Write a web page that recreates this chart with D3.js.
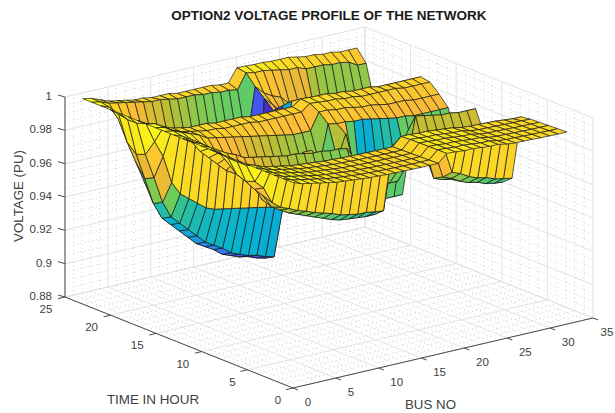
<!DOCTYPE html>
<html><head><meta charset="utf-8">
<script src="https://d3js.org/d3.v7.min.js"></script>
<style>html,body{margin:0;padding:0;background:#fff}svg{display:block}text{font-family:"Liberation Sans",Arial,sans-serif}</style>
</head><body><svg id="c" width="615" height="413"></svg>
<script>
const titleText="OPTION2 VOLTAGE PROFILE OF THE NETWORK", xLabel="BUS NO", yLabel="TIME IN HOUR", zLabel="VOLTAGE (PU)";
const xTicks=[0,5,10,15,20,25,30,35], yTicks=[0,5,10,15,20,25], zTicks=[0.88,0.9,0.92,0.94,0.96,0.98,1];
const zTickLabels=["0.88","0.9","0.92","0.94","0.96","0.98","1"];
const buses=d3.range(1,34), hours=d3.range(1,25);
const hour1=[1,.998,.997,.996,.995,.994,.9935,.993,.9925,.992,.9918,.9915,.9913,.9912,.9911,.991,.991,.991,.9958,.9955,.995,.995,.9945,.994,.994,.993,.9925,.9924,.9922,.992,.9919,.9918,.9918];
const hour2=[1,.998,.997,.996,.995,.994,.9933,.9928,.9923,.9918,.9916,.9913,.9911,.991,.9909,.9908,.9908,.9908,.9957,.9954,.9949,.9949,.9944,.9939,.9938,.9928,.9923,.9922,.992,.9918,.9917,.9916,.9916];
const hour3=[1,.998,.9968,.9958,.9948,.9938,.9931,.9926,.9921,.9916,.9914,.9911,.9909,.9908,.9907,.9906,.9906,.9906,.9956,.9953,.9948,.9948,.9943,.9938,.9937,.9926,.9921,.992,.9918,.9916,.9915,.9914,.9914];
const hour4=[1,.998,.9966,.9956,.9946,.9936,.9929,.9924,.9919,.9914,.9912,.9909,.9907,.9906,.9905,.9904,.9904,.9904,.9955,.9952,.9947,.9947,.9941,.9936,.9935,.9924,.9919,.9918,.9916,.9914,.9913,.9912,.9911];
const hour5=[1,.998,.9964,.9954,.9944,.9934,.9927,.9922,.9917,.9912,.991,.9907,.9905,.9904,.9903,.9902,.9902,.9902,.9954,.9951,.9946,.9946,.994,.9935,.9934,.9922,.9917,.9916,.9914,.9912,.9911,.991,.9908];
const hour6=[1,.998,.996,.995,.994,.993,.9925,.992,.9915,.991,.9908,.9905,.9903,.9902,.9901,.99,.99,.99,.995,.995,.9945,.9945,.994,.9935,.993,.992,.9915,.9914,.9912,.991,.9905,.99,.99];
const hour7=[1,.996,.985,.98,.97,.966,.964,.9616,.96,.958,.9565,.955,.953,.952,.951,.951,.95,.9495,.987,.985,.984,.983,.982,.981,.98,.963,.961,.958,.956,.955,.953,.952,.951];
const hour8=[1,.996,.983,.977,.972,.964,.961,.958,.956,.954,.952,.95,.948,.9466,.946,.9455,.945,.945,.972,.975,.975,.975,.975,.975,.975,.958,.956,.953,.951,.95,.948,.947,.9465];
const hour9=[1,.996,.985,.98,.975,.966,.963,.96,.958,.956,.955,.954,.952,.951,.95,.95,.949,.949,.975,.975,.975,.975,.975,.975,.975,.955,.953,.952,.951,.95,.949,.948,.955];
const hour10=[1,.997,.99,.985,.98,.975,.972,.97,.968,.966,.965,.964,.963,.962,.961,.96,.96,.96,.965,.965,.965,.965,.968,.968,.968,.968,.968,.968,.968,.968,.969,.97,.97];
const hour11=[1,.998,.995,.992,.99,.987,.986,.985,.984,.983,.982,.982,.981,.98,.98,.979,.979,.978,.97,.968,.965,.962,.96,.958,.96,.988,.987,.986,.985,.985,.984,.984,.984];
const hour12=[1,.998,.994,.99,.986,.982,.98,.978,.976,.975,.974,.973,.972,.971,.97,.97,.968,.968,.965,.96,.955,.955,.95,.948,.948,.975,.974,.973,.972,.972,.972,.972,.972];
const hour13=[1,.997,.99,.985,.98,.975,.972,.97,.968,.966,.965,.964,.963,.962,.975,.975,.958,.956,.966,.98,.956,.932,.93,.94,.945,.945,.957,.957,.957,.957,.957,.957,.957];
const hour14=[1,.998,.995,.992,.988,.983,.98,.978,.975,.972,.97,.968,.966,.965,.964,.963,.962,.962,.985,.984,.984,.983,.983,.982,.981,.98,.979,.979,.978,.978,.978,.978,.978];
const hour15=[1,.999,.997,.995,.993,.99,.989,.988,.987,.986,.985,.984,.983,.982,.981,.98,.98,.98,.99,.99,.989,.989,.988,.987,.987,.986,.985,.985,.985,.984,.984,.984,.984];
const hour16=[1,.999,.996,.994,.993,.992,.991,.991,.99,.99,.99,.99,.989,.989,.989,.989,.989,.989,.993,.9925,.992,.992,.991,.991,.99,.99,.99,.99,.99,.989,.989,.989,.989];
const hour17=[1,.999,.996,.994,.993,.992,.992,.992,.991,.991,.991,.991,.99,.99,.99,.99,.99,.99,.9935,.9932,.993,.993,.992,.992,.991,.991,.991,.99,.99,.99,.99,.99,.99];
const hour18=[1,.997,.985,.975,.958,.95,.946,.942,.938,.936,.935,.934,.933,.932,.931,.93,.929,.928,.99,.985,.98,.978,.97,.965,.963,.96,.958,.958,.957,.956,.956,.955,.955];
const hour19=[1,.995,.975,.96,.944,.934,.929,.924,.919,.914,.911,.908,.904,.902,.9,.899,.897,.8956,.985,.975,.97,.965,.95,.94,.935,.93,.925,.92,.918,.915,.915,.915,.915];
const hour20=[1,.995,.973,.957,.941,.931,.926,.921,.916,.911,.908,.905,.901,.899,.897,.896,.894,.8926,.98,.975,.97,.965,.95,.94,.935,.93,.925,.92,.918,.915,.915,.915,.915];
const hour21=[1,.996,.978,.965,.952,.94,.934,.93,.925,.92,.917,.914,.91,.908,.906,.904,.902,.9,.985,.98,.975,.97,.96,.95,.945,.94,.935,.93,.93,.93,.93,.93,.93];
const hour22=[1,.998,.99,.985,.98,.976,.972,.97,.967,.965,.964,.962,.96,.959,.958,.957,.957,.956,.99,.985,.982,.98,.975,.975,.975,.965,.963,.962,.962,.962,.962,.962,.962];
const hour23=[1,.999,.997,.996,.995,.994,.993,.992,.992,.991,.99,.99,.99,.989,.989,.988,.988,.987,.996,.995,.995,.994,.993,.992,.992,.99,.99,.99,.989,.989,.988,.985,.985];
const hour24=[1,.999,.997,.995,.994,.993,.992,.992,.991,.991,.991,.99,.99,.99,.99,.99,.989,.989,.997,.9968,.9965,.9965,.996,.996,.996,.995,.994,.994,.993,.993,.992,.992,.992];
const voltage=[hour1,hour2,hour3,hour4,hour5,hour6,hour7,hour8,hour9,hour10,hour11,hour12,hour13,hour14,hour15,hour16,hour17,hour18,hour19,hour20,hour21,hour22,hour23,hour24];

const parulaStops=["#3e26a8","#4741e8","#3c73fa","#1e96e1","#06b2d0","#28be9f","#6ecd5a","#bebe32","#fab937","#fad228","#f9fb14"];
const parulaLevels=[.89,.897,.905,.918,.932,.948,.958,.967,.978,.99,1];
const color=d3.scaleLinear().domain(parulaLevels).range(parulaStops).clamp(true);

const ox=293, oy=388;
const sxX=d3.scaleLinear([0,35],[0,300]), sxY=d3.scaleLinear([0,25],[0,-228]);
const syX=d3.scaleLinear([0,35],[0,-70]), syY=d3.scaleLinear([0,25],[0,-91]), syZ=d3.scaleLinear([0.88,1],[0,-200]);
const P=(x,y,z)=>[ox+sxX(x)+sxY(y), oy+syX(x)+syY(y)+syZ(z)];
const svg=d3.select("#c"), line=d3.line();
const seg=(g,a,b,cls)=>g.append("path").attr("d",line([a,b])).attr("class",cls);
const grid=svg.append("g");
const style=document.createElement("style");
style.textContent=".maj{stroke:#e2e2e2;stroke-width:1;fill:none}.min{stroke:#bdbdbd;stroke-width:.7;stroke-dasharray:1 3;fill:none}.ax{stroke:#4a4a4a;stroke-width:1;fill:none}";
document.head.appendChild(style);
const zMax=1,zMin=.88,xMax=35,yMax=25;
d3.range(0,35.5,1).filter(v=>v%5).forEach(v=>{seg(grid,P(v,0,zMin),P(v,yMax,zMin),"min");seg(grid,P(v,yMax,zMin),P(v,yMax,zMax),"min");});
d3.range(0,25.5,1).filter(v=>v%5).forEach(v=>{seg(grid,P(0,v,zMin),P(xMax,v,zMin),"min");seg(grid,P(xMax,v,zMin),P(xMax,v,zMax),"min");});
d3.range(0,24).map(i=>0.88+i*0.005).filter((v,i)=>i%4).forEach(v=>{seg(grid,P(0,yMax,v),P(xMax,yMax,v),"min");seg(grid,P(xMax,yMax,v),P(xMax,0,v),"min");});
xTicks.forEach(v=>{seg(grid,P(v,0,zMin),P(v,yMax,zMin),"maj");seg(grid,P(v,yMax,zMin),P(v,yMax,zMax),"maj");});
yTicks.forEach(v=>{seg(grid,P(0,v,zMin),P(xMax,v,zMin),"maj");seg(grid,P(xMax,v,zMin),P(xMax,v,zMax),"maj");});
zTicks.forEach(v=>{seg(grid,P(0,yMax,v),P(xMax,yMax,v),"maj");seg(grid,P(xMax,yMax,v),P(xMax,0,v),"maj");});
seg(svg,P(0,yMax,zMin),P(0,yMax,zMax),"ax");
seg(svg,P(0,yMax,zMin),P(0,0,zMin),"ax");
seg(svg,P(0,0,zMin),P(xMax,0,zMin),"ax");
const txt=(x,y,t,size,anchor,fill)=>svg.append("text").attr("x",x).attr("y",y).attr("font-size",size).attr("text-anchor",anchor).attr("fill",fill||"#404040").text(t);
xTicks.forEach(v=>{const p=P(v,0,zMin);seg(svg,p,[p[0]+5,p[1]+2],"ax");txt(p[0]+(v<10?15:v>30?14:18),p[1]+18,v,11.5,"middle");});
yTicks.forEach(v=>{const p=P(0,v,zMin);seg(svg,p,[p[0]-7,p[1]+1.6],"ax");txt(p[0]-(v<10?15:19),p[1]+16,v,11.5,"middle");});
zTicks.forEach((v,i)=>{const p=P(0,yMax,v);seg(svg,p,[p[0]-7,p[1]-2],"ax");txt(p[0]-13,p[1]+3,zTickLabels[i],11.5,"end");});
txt(329,20,titleText,13.5,"middle","#1a1a1a").attr("font-weight","bold");
txt(153,404,yLabel,13.4,"middle");
txt(430.5,409,xLabel,13.3,"middle");
svg.append("text").attr("transform","translate(23,196) rotate(-90)").attr("font-size",13.3).attr("text-anchor","middle").attr("fill","#404040").text(zLabel);
const faces=[];
for(let h=hours.length-2;h>=0;h--) for(let k=buses.length-2;k>=0;k--){
  faces.push({c:voltage[h][k],pts:[P(buses[k],hours[h],voltage[h][k]),P(buses[k+1],hours[h],voltage[h][k+1]),P(buses[k+1],hours[h+1],voltage[h+1][k+1]),P(buses[k],hours[h+1],voltage[h+1][k])]});
}
svg.append("g").selectAll("path").data(faces).join("path")
 .attr("d",d=>line(d.pts)+"Z").attr("fill",d=>color(d.c)).attr("stroke","#1a1a1a").attr("stroke-width",.7).attr("stroke-linejoin","round");
</script></body></html>
